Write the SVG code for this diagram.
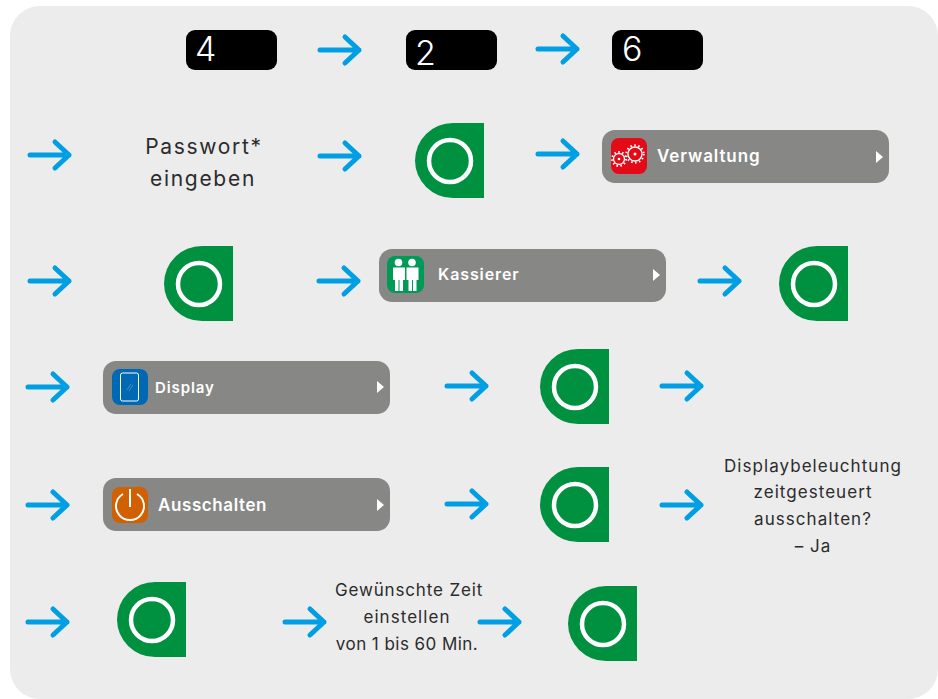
<svg xmlns="http://www.w3.org/2000/svg" xmlns:xlink="http://www.w3.org/1999/xlink" width="938" height="699" viewBox="0 0 938 699">
<style>
.t{font-family:"Inter","Noto Sans",sans-serif;fill:#2b2b2b;text-anchor:middle}
.t1{font-size:21px;letter-spacing:1.7px}
.t2{font-size:17px;letter-spacing:1.05px}
.b{font-family:"Inter","Noto Sans",sans-serif;fill:#fff;font-weight:600;letter-spacing:.9px}
.k{font-family:"Inter","Noto Sans",sans-serif;font-weight:300;fill:#fff;font-size:34px}
.a{fill:none;stroke:#009fe3;stroke-width:5;stroke-linecap:round;stroke-linejoin:round}
.bar{fill:#878785}
.g{fill:#009140}
.r{fill:none;stroke:#fff;stroke-width:4.5}
</style>
<defs>
<g id="ar"><path class="a" d="M1 0H40M26-13L40 0L26 13"/></g>
<g id="ok"><path class="g" d="M69 0V75H38A38 37.500 0 0 1 38 0Z"/><circle class="r" cx="35" cy="38" r="21"/></g>
<path id="tri" fill="#fff" d="M0-6L7 0L0 6Z"/>
</defs>
<rect x="10" y="6" width="928" height="693" rx="30" fill="#ececec"/>
<g id="connectors">
<use xlink:href="#ar" x="319" y="50"/>
<use xlink:href="#ar" x="537" y="49"/>
<use xlink:href="#ar" x="29" y="155"/>
<use xlink:href="#ar" x="319" y="156"/>
<use xlink:href="#ar" x="537" y="154"/>
<use xlink:href="#ar" x="29" y="281"/>
<use xlink:href="#ar" x="318" y="281"/>
<use xlink:href="#ar" x="699" y="281"/>
<use xlink:href="#ar" x="27" y="387"/>
<use xlink:href="#ar" x="446" y="386"/>
<use xlink:href="#ar" x="661" y="386"/>
<use xlink:href="#ar" x="27" y="505"/>
<use xlink:href="#ar" x="446" y="504"/>
<use xlink:href="#ar" x="661" y="505"/>
<use xlink:href="#ar" x="27" y="622"/>
<use xlink:href="#ar" x="284" y="622"/>
<use xlink:href="#ar" x="479" y="622"/>
</g>
<g id="key4"><rect x="186" y="30" width="91" height="40" rx="9"/><text class="k" x="195" y="61">4</text></g>
<g id="key2"><rect x="406" y="30" width="91" height="40" rx="9"/><text class="k" x="415" y="65">2</text></g>
<g id="key6"><rect x="612" y="30" width="91" height="40" rx="9"/><text class="k" x="622" y="61">6</text></g>
<g id="passwort"><text class="t t1" x="204" y="154">Passwort*</text><text class="t t1" x="203" y="186">eingeben</text></g>
<g id="ok1"><use xlink:href="#ok" x="415" y="123"/></g>
<g id="verwaltung"><rect class="bar" x="602" y="130" width="287" height="53" rx="13"/>
<rect x="611" y="138" width="36" height="36" rx="8" fill="#e30b17"/>
<g fill="none" stroke="#fff"><circle cx="619" cy="159" r="5.500" stroke-width="1.300"/><circle cx="619" cy="159" r="7" stroke-width="2" stroke-dasharray="1.500 2.500"/><circle cx="635" cy="154" r="7" stroke-width="1.300"/><circle cx="635" cy="154" r="8.700" stroke-width="2" stroke-dasharray="1.500 2.500"/></g>
<circle cx="619" cy="159" r="1.300" fill="#fff"/><circle cx="635" cy="154" r="1.500" fill="#fff"/>
<text class="b" x="657" y="162" font-size="17">Verwaltung</text><use xlink:href="#tri" x="876" y="157"/></g>
<g id="ok2"><use xlink:href="#ok" x="164" y="246"/></g>
<g id="kassierer"><rect class="bar" x="379" y="249" width="287" height="53" rx="13"/>
<rect x="387" y="256" width="37" height="37" rx="8" fill="#009a58"/>
<g fill="#fff"><circle cx="398.500" cy="262.500" r="3.800"/><circle cx="412" cy="262.500" r="3.800"/><path d="M393 267.500H405V280H403V291H399.500V280H398.500V291H395V280H393Z"/><path d="M406.500 267.500H418.500V280H416.500V291H413V280H412V291H408.500V280H406.500Z"/></g>
<text class="b" x="438" y="280" font-size="16">Kassierer</text><use xlink:href="#tri" x="653" y="275"/></g>
<g id="ok3"><use xlink:href="#ok" x="779" y="246"/></g>
<g id="display"><rect class="bar" x="103" y="361" width="287" height="53" rx="13"/>
<rect x="112" y="369" width="36" height="36" rx="8" fill="#0069b4"/>
<rect x="120.500" y="373" width="18" height="28" rx="2" fill="none" stroke="#fff"/>
<path d="M127 390L131 384M129 391L133 385" stroke="#5b9bd0" stroke-width=".7"/>
<text class="b" x="155" y="393" font-size="15">Display</text><use xlink:href="#tri" x="377" y="387"/></g>
<g id="ok4"><use xlink:href="#ok" x="540" y="349"/></g>
<g id="ausschalten"><rect class="bar" x="103" y="478" width="287" height="53" rx="13"/>
<rect x="112" y="487" width="36" height="36" rx="8" fill="#d06000"/>
<path d="M123 494A14 14 0 1 0 137 494M130 489V507" fill="none" stroke="#fff" stroke-width="2"/>
<text class="b" x="158" y="511" font-size="17" style="letter-spacing:.6px">Ausschalten</text><use xlink:href="#tri" x="377" y="505"/></g>
<g id="ok5"><use xlink:href="#ok" x="540" y="467"/></g>
<g id="displaybeleuchtung"><text class="t t2" x="813" y="472">Displaybeleuchtung</text><text class="t t2" x="813" y="498">zeitgesteuert</text><text class="t t2" x="813" y="525">ausschalten?</text><text class="t t2" x="813" y="552">– Ja</text></g>
<g id="ok6"><use xlink:href="#ok" x="117" y="582"/></g>
<g id="zeit"><text class="t t2" x="409" y="596" style="letter-spacing:.85px">Gewünschte Zeit</text><text class="t t2" x="407" y="623">einstellen</text><text class="t t2" x="407" y="650" style="letter-spacing:.45px">von 1 bis 60 Min.</text></g>
<g id="ok7"><use xlink:href="#ok" x="568" y="586"/></g>
</svg>
